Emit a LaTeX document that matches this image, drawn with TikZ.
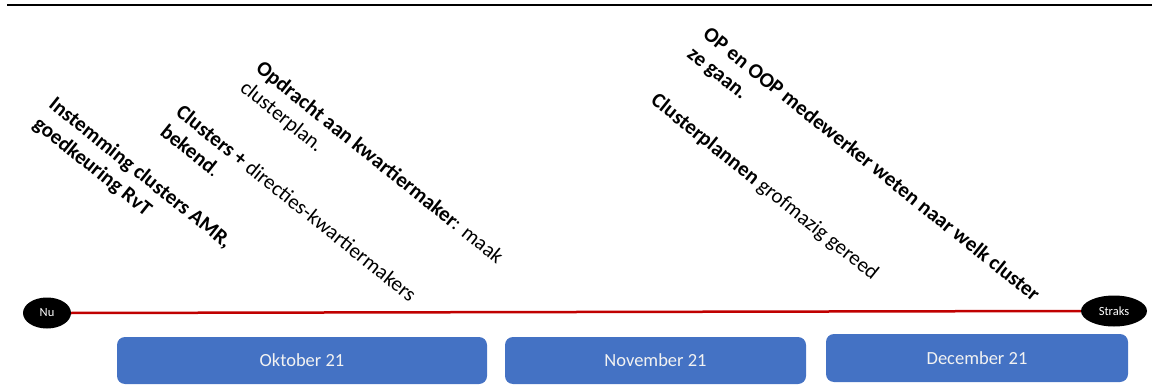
\documentclass[tikz,border=0pt]{standalone}
\usepackage{fontspec}
\setmainfont{Carlito}
\usetikzlibrary{shapes.geometric}
\definecolor{boxblue}{HTML}{4472C4}
\definecolor{tlred}{HTML}{C00000}
\definecolor{boxtext}{HTML}{F2F2F2}
\begin{document}
\begin{tikzpicture}[x=1pt,y=-1pt,
  month/.style={fill=boxblue, rounded corners=8pt, text=boxtext, inner sep=0pt,
    font=\fontsize{18.5}{22}\selectfont},
  endpoint/.style={ellipse, fill=black, text=white, inner sep=0pt,
    minimum height=31pt, font=\fontsize{12.5}{15}\selectfont},
  milestone/.style={anchor=north west, rotate=-38.7, inner sep=0pt, align=left,
    font=\fontsize{21}{25}\selectfont},
  redline/.style={draw=tlred, line width=2.5pt},
  topline/.style={draw=black, line width=1.2pt}]
\useasboundingbox (0,0) rectangle (1152,385);
% top rule
\coordinate (tl) at (7,5);
\coordinate (tr) at (1152,5);
\draw[topline] (tl) -- (tr);
% endpoints
\node[endpoint, minimum width=48pt] (nu) at (47,313) {Nu};
\node[endpoint, minimum width=66pt] (straks) at (1114,311) {Straks};
\draw[redline] (nu.east) -- (straks.west);
% month boxes
\node[month, minimum width=370pt, minimum height=47pt] (okt) at (302,360.5) {Oktober 21};
\node[month, minimum width=301pt, minimum height=47pt] (nov) at (655.5,360.5) {November 21};
\node[month, minimum width=302pt, minimum height=48pt] (dec) at (977,358) {December 21};
% milestones
\node[milestone] (m1) at (57,95) {\textbf{Instemming clusters AMR,}\\\textbf{goedkeuring RvT}};
\node[milestone] (m2) at (184,103) {\textbf{Clusters +} directies-kwartiermakers\\\textbf{bekend}.};
\node[milestone] (m3) at (264,59) {\textbf{Opdracht aan kwartiermaker}: maak\\clusterplan.};
\node[milestone] (m4) at (659,91) {\textbf{Clusterplannen} grofmazig gereed};
\node[milestone] (m5) at (711,25) {\textbf{OP en OOP medewerker weten naar welk cluster}\\\textbf{ze gaan.}};
\end{tikzpicture}
\end{document}
